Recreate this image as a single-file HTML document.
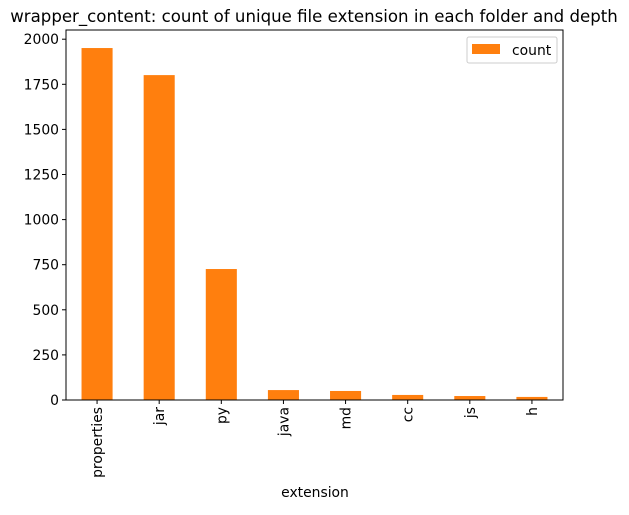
<!DOCTYPE html>
<html><head><meta charset="utf-8"><style>
body{margin:0;background:#fff;font-family:"Liberation Sans","DejaVu Sans",sans-serif;}
</style></head><body>
<svg id="chart" width="629" height="510" font-family="DejaVu Sans, Liberation Sans, sans-serif">
<text x="314" y="22" text-anchor="middle" font-size="16.6">wrapper_content: count of unique file extension in each folder and depth</text>
<g id="bars"></g>
<g id="yaxis"></g>
<g id="xaxis"></g>
<rect x="66" y="30" width="497" height="370" fill="none" stroke="#000" stroke-width="1"/>
<text x="315" y="497" text-anchor="middle" font-size="13.9">extension</text>
<g>
<rect x="467" y="37" width="90" height="26" rx="2" fill="#fff" stroke="#ccc"/>
<rect x="472" y="44" width="28" height="10" fill="#ff7f0e"/>
<text x="512" y="55" font-size="13.9">count</text>
</g>
</svg>
<script>
const categories=["properties","jar","py","java","md","cc","js","h"];
const counts=[1951,1801,726,55,50,28,22,17];
const yTicks=[0,250,500,750,1000,1250,1500,1750,2000];
const NS="http://www.w3.org/2000/svg";
const L=66,R=563,B=400,scale=45.1/250;
const y=v=>B-v*scale;
const step=(R-L)/categories.length;
const x=i=>L+step*(i+0.5);
function mk(t,a,p){const e=document.createElementNS(NS,t);for(const k in a)e.setAttribute(k,a[k]);p.appendChild(e);return e;}
const bars=document.getElementById('bars'),ya=document.getElementById('yaxis'),xa=document.getElementById('xaxis');
categories.forEach((c,i)=>{
 const r=mk('rect',{x:x(i)-step/4,y:y(counts[i]),width:step/2,height:B-y(counts[i]),fill:'#ff7f0e'},bars);
 
 
 mk('line',{x1:x(i),x2:x(i),y1:B,y2:B+4,stroke:'#000'},xa);
 const t=mk('text',{x:0,y:0,'font-size':13.9,'text-anchor':'end',transform:`translate(${x(i)+5},${B+7}) rotate(-90)`},xa);
 t.textContent=c;
 
 
});
yTicks.forEach(v=>{
 mk('line',{x1:L-4,x2:L,y1:y(v),y2:y(v),stroke:'#000'},ya);
 const t=mk('text',{x:L-7,y:y(v)+5,'font-size':13.9,'text-anchor':'end'},ya);
 t.textContent=v;
 
 
});
</script>
</body></html>
